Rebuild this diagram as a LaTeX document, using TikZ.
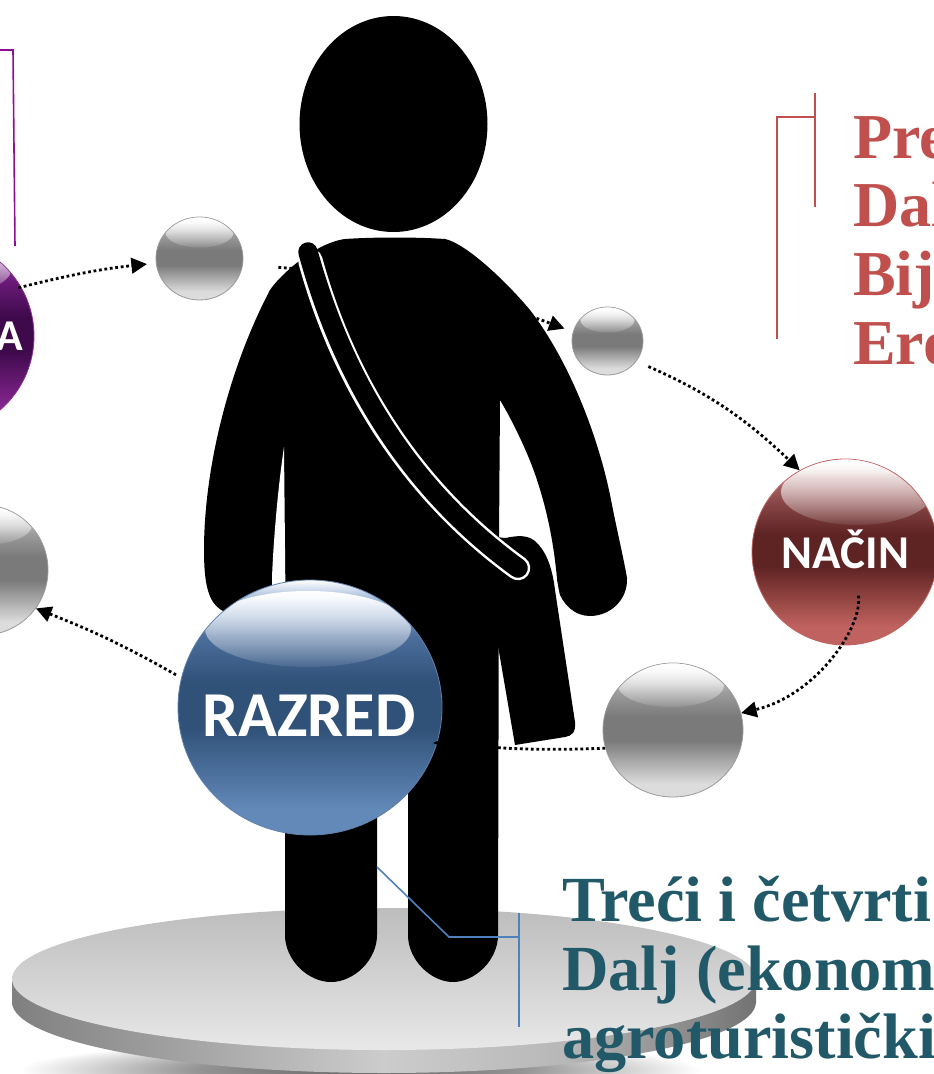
\documentclass[tikz,border=0pt]{standalone}
\usepackage{fontspec}
\setmainfont{Liberation Serif}
\newfontfamily\lblfont{Carlito}
\usetikzlibrary{shapes.geometric,fadings,arrows.meta,calc}
\pgfdeclarelayer{platformlayer}
\pgfdeclarelayer{connlayer}
\pgfdeclarelayer{personlayer}
\pgfdeclarelayer{toplayer}
\pgfsetlayers{platformlayer,connlayer,personlayer,main,toplayer}
\definecolor{redtxt}{HTML}{C0504D}
\definecolor{tealtxt}{HTML}{215968}
\definecolor{bluel}{HTML}{4F81BD}
\definecolor{purpl}{HTML}{8E0F96}
\newcommand{\declsphere}[5]{%
\pgfdeclareverticalshading{#1}{100bp}{%
color(0bp)=(#4);color(25bp)=(#4);color(30bp)=(#4);color(46bp)=(#3);color(55bp)=(#3);color(64bp)=(#5);color(70bp)=(#2);color(75bp)=(white);color(100bp)=(white)}}
\definecolor{gt}{HTML}{C8C8C8}\definecolor{gm}{HTML}{7A7A7A}\definecolor{gb}{HTML}{DCDCDC}\definecolor{gu}{HTML}{9C9C9C}
\definecolor{bt}{HTML}{7FA0CC}\definecolor{bm}{HTML}{305279}\definecolor{bb}{HTML}{6389B9}\definecolor{bu}{HTML}{4C6E9C}
\definecolor{rt}{HTML}{B07070}\definecolor{rm}{HTML}{5E2423}\definecolor{rb}{HTML}{C0625F}\definecolor{ru}{HTML}{8C4A4A}
\definecolor{pt}{HTML}{8A3A96}\definecolor{pm}{HTML}{3F0A4C}\definecolor{pb}{HTML}{8F2A99}\definecolor{pu}{HTML}{6A1A78}
\declsphere{graysh}{gt}{gm}{gb}{gu}
\declsphere{bluesh}{bt}{bm}{bb}{bu}
\declsphere{redsh}{rt}{rm}{rb}{ru}
\declsphere{purplesh}{pt}{pm}{pb}{pu}
\pgfdeclareverticalshading{platsh}{100bp}{color(0bp)=(white!91!black);color(25bp)=(white!91!black);color(75bp)=(white!74!black);color(100bp)=(white!74!black)}
\pgfdeclarehorizontalshading{sidesh}{100bp}{color(0bp)=(white!50!black);color(25bp)=(white!50!black);color(50bp)=(white!80!black);color(62bp)=(white!72!black);color(75bp)=(white!45!black);color(100bp)=(white!45!black)}
\pgfdeclareradialshading{shadowsh}{\pgfpointorigin}{color(0bp)=(white!40!black);color(12bp)=(white!58!black);color(25bp)=(white);color(100bp)=(white)}
\tikzfading[name=hlfade, top color=transparent!0, bottom color=transparent!92]
\newcommand{\spheregloss}[8]{\begin{scope}\clip (#1,#2) ellipse (#3 and #4);\fill[glow] (#5,#6) ellipse (#7 and #8);\end{scope}}
\tikzset{
  sphere/.style={ellipse,inner sep=0pt,draw=#1,line width=0.8pt},
  glow/.style={white,path fading=hlfade,fit fading=true},
  conn/.style={line width=2.8pt,dash pattern=on 2.8pt off 2.7pt,-{Triangle[length=15.5pt,width=15.5pt]}},
  callout/.style={line width=1.6pt},
  sphlabel/.style={text=white,inner sep=0pt},
  sidetext/.style={font=\bfseries\fontsize{64}{69}\selectfont,anchor=base west,inner sep=0pt},
}
\begin{document}
\begin{tikzpicture}[x=1pt,y=-1pt]
\useasboundingbox (0,0) rectangle (934,1074);
\clip (0,0) rectangle (934,1074);
% spheres
\node[sphere=white!60!black,shading=graysh,minimum width=87pt,minimum height=83pt] (g1) at (199.5,258.5) {};
\node[sphere=white!60!black,shading=graysh,minimum width=71pt,minimum height=68pt] (g2) at (607.5,341) {};
\node[sphere=white!60!black,shading=graysh,minimum width=140pt,minimum height=134pt] (g3) at (673,730) {};
\node[sphere=white!60!black,shading=graysh,minimum width=130pt,minimum height=130pt] (g4) at (-17,570) {};
\node[sphere=bluel!70!gray,shading=bluesh,minimum width=264pt,minimum height=255pt] (razred) at (310,707.5) {};
\node[sphere=rb,shading=redsh,minimum width=186pt,minimum height=186pt] (nacin) at (845,552) {};
\node[sphere=pb,shading=purplesh,minimum width=195pt,minimum height=195pt] (purple) at (-63.5,336) {};
% highlights, kept inside their spheres
\spheregloss{199.5}{258.5}{43}{41}{199.5}{232.5}{34}{15}
\spheregloss{607.5}{341}{35}{33.5}{607.5}{320}{27}{12.5}
\spheregloss{673}{730}{69.5}{66.5}{671}{685}{53}{22}
\spheregloss{-17}{570}{64.5}{64.5}{-17}{525}{49}{20}
\spheregloss{310}{707.5}{131.5}{127}{308}{629}{103}{38}
\spheregloss{845}{552}{92.5}{92.5}{857}{492}{76}{33}
\spheregloss{-63.5}{336}{97}{97}{-63}{268}{75}{29}
% sphere labels
\node[sphlabel,font=\lblfont\bfseries\fontsize{64}{64}\selectfont] (razredtxt) at (309,716) {RAZRED};
\node[sphlabel,font=\lblfont\bfseries\fontsize{47}{47}\selectfont] (nacintxt) at (845.5,549) {NAČIN};
\node[sphlabel,font=\lblfont\bfseries\fontsize{44}{44}\selectfont] (purpletxt) at (10,336) {A};
% free ends of the callouts
\coordinate (rzline) at (377,867);
\coordinate (rzbend) at (449,937);
\coordinate (rzjoin) at (519,937);
\coordinate (rztop) at (519,913);
\coordinate (rzbot) at (519,1027);
\coordinate (rdtop) at (815,93);
\coordinate (rdbot) at (815,207);
\coordinate (rdjoin) at (815,117);
\coordinate (rdbend) at (777,117);
\coordinate (rdend) at (777,339);
\coordinate (ptop) at (13,50);
\coordinate (pstart) at (0,50);
\coordinate (pend) at (15,246);
% platform
\begin{pgfonlayer}{platformlayer}
\node[ellipse,inner sep=0pt,minimum width=680pt,minimum height=60pt,shading=shadowsh] (shadow) at (360,1070) {};
\node[ellipse,inner sep=0pt,minimum width=744pt,minimum height=142pt,shading=sidesh] (platside) at (384,1002) {};
\fill[shading=sidesh] (12,979) rectangle (756,1002);
\node[ellipse,inner sep=0pt,minimum width=744pt,minimum height=142pt,shading=platsh] (plattop) at (384,979) {};
\end{pgfonlayer}
% connectors running behind the figure
\begin{pgfonlayer}{connlayer}
\draw[conn,shorten <=-2pt,shorten >=9pt] (g1.east) ++(37,9) to[bend left=8] (g2.165);
\draw[conn,-,shorten <=0pt] (g3.195) to[bend left=4] (razred.east |- 0,743);
\end{pgfonlayer}
% figure
\begin{pgfonlayer}{personlayer}
\node[ellipse,fill=black,inner sep=0pt,minimum width=188pt,minimum height=216pt] (head) at (393.5,124) {};
\fill[black] (345,239) .. controls (375,237) and (415,237) .. (445,239)
  .. controls (465,243) and (505,280) .. (530,310)
  .. controls (570,362) and (600,440) .. (612,505)
  .. controls (618,535) and (624,560) .. (627,578)
  .. controls (628,600) and (610,616) .. (590,616)
  .. controls (575,616) and (563,605) .. (558,590)
  .. controls (556,565) and (552,525) .. (537,480)
  .. controls (530,458) and (515,425) .. (500,400)
  -- (499,540) -- (498,935)
  .. controls (498,960) and (475,982) .. (453,982)
  .. controls (431,982) and (408,960) .. (408,935)
  -- (408,780) -- (377,780) -- (377,935)
  .. controls (377,960) and (354,982) .. (331,982)
  .. controls (308,982) and (285,960) .. (285,935)
  -- (285,620) -- (225,612)
  .. controls (210,605) and (204,590) .. (204,550)
  .. controls (204,470) and (228,370) .. (270,290)
  .. controls (280,275) and (315,243) .. (345,239) -- cycle;
% bag
\fill[black] (497,537) -- (505,538) .. controls (512,537) and (525,533) .. (535,541)
  .. controls (545,550) and (552,565) .. (555,590)
  -- (575,722) .. controls (576,732) and (572,736) .. (565,737)
  -- (515,745) -- (497,640) -- cycle;
\draw[white,line width=1.4pt] (548,552) .. controls (552,562) and (556,578) .. (559,595);
% slit under the left arm
\fill[white] (284,447) -- (285.5,600) -- (272,600) -- (272,577) .. controls (274,530) and (279,480) .. (284,447) -- cycle;
% strap
\draw[white,line width=24.5pt,line cap=round,shorten <=9pt] (308,252) .. controls (335,350) and (390,475) .. (518,568);
\draw[black,line width=19.5pt,line cap=round] (308,252) .. controls (335,350) and (390,475) .. (518,568);
\end{pgfonlayer}
% callouts and other connectors
\begin{pgfonlayer}{toplayer}
\draw[conn,shorten <=-3pt,shorten >=9pt] (purple.30) to[bend left=4] (g1.186);
\draw[conn,shorten <=13pt,shorten >=0pt] (g2.-35) to[bend left=10] (nacin.119);
\draw[conn,shorten >=0pt,shorten <=44pt] (nacin.center) ++(8,0) to[bend left=42] (g3.14);
\draw[conn,shorten <=6pt,shorten >=0pt] (razred.167) to[bend right=4] (g4.-36);
\fill[black] (433,743) -- (441,739.5) -- (441,746) -- cycle;
\draw[bluel,callout] (rzline) -- (rzbend) -- (rzjoin);
\draw[bluel,callout] (rztop) -- (rzbot);
\draw[redtxt,callout] (rdtop) -- (rdbot);
\draw[redtxt,callout] (rdjoin) -- (rdbend) -- (rdend);
\draw[purpl,callout] (pstart) -- (ptop) -- (pend);
\node[sidetext,text=redtxt] (t1) at (853,158) {Pre};
\node[sidetext,text=redtxt] (t2) at (853,226) {Dal};
\node[sidetext,text=redtxt] (t3) at (853,295) {Bij};
\node[sidetext,text=redtxt] (t4) at (853,364) {Ero};
\node[sidetext,text=tealtxt,font=\bfseries\fontsize{64.3}{69}\selectfont] (u1) at (562,921) {Treći i četvrti};
\node[sidetext,text=tealtxt,font=\bfseries\fontsize{64.3}{69}\selectfont] (u2) at (562,990) {Dalj (ekonom};
\node[sidetext,text=tealtxt,font=\bfseries\fontsize{64.3}{69}\selectfont] (u3) at (562,1058) {agroturistički};
\end{pgfonlayer}
\end{tikzpicture}
\end{document}
